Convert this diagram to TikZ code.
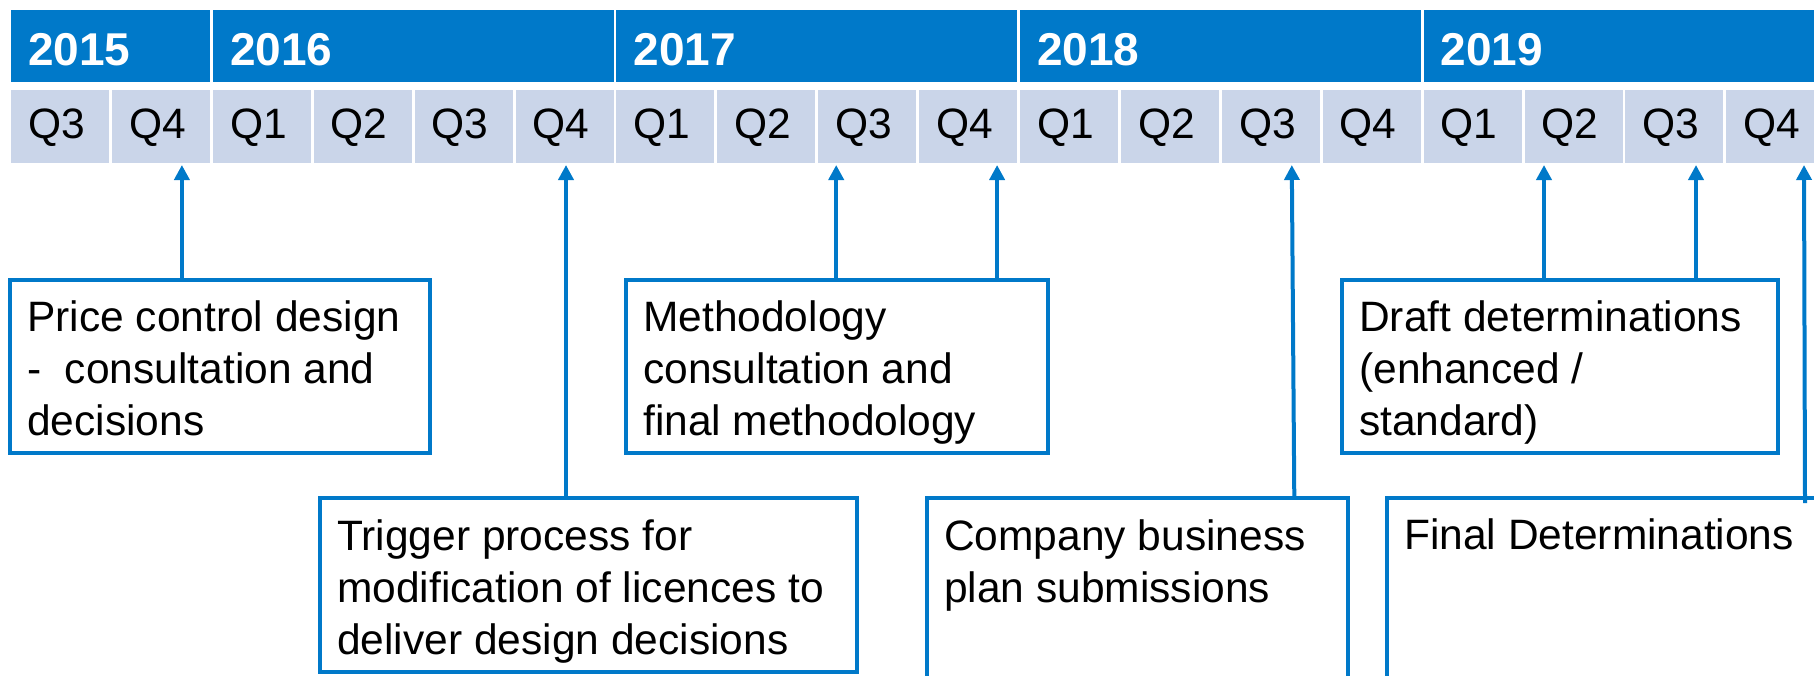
\documentclass[tikz,border=0pt]{standalone}
\usepackage{fontspec}
\setmainfont{Liberation Sans}
\usetikzlibrary{arrows.meta}
\definecolor{barblue}{RGB}{0,121,201}
\definecolor{qfill}{RGB}{202,213,233}
\begin{document}
\begin{tikzpicture}[x=1pt,y=-1pt,
  yearcell/.style={fill=barblue, draw=none, minimum height=72pt, inner sep=0pt, outer sep=0pt, anchor=north west},
  qcell/.style={fill=qfill, draw=none, minimum width=98pt, minimum height=73pt, inner sep=0pt, outer sep=0pt, anchor=north west},
  yeartext/.style={anchor=base west, inner sep=0pt, text=white, font=\fontsize{46}{52}\selectfont\bfseries},
  qtext/.style={anchor=base west, inner sep=0pt, font=\fontsize{42.5}{52}\selectfont},
  eventbox/.style={draw=barblue, line width=4pt, fill=white, inner sep=0pt, outer sep=0pt, anchor=north west},
  boxtext/.style={anchor=base west, inner sep=0pt, font=\fontsize{42.5}{52}\selectfont},
  arr/.style={draw=barblue, line width=4pt, -{Triangle[width=15pt,length=15pt]}}
]
\useasboundingbox (0,0) rectangle (1814,675);
\clip (0,0) rectangle (1814,675);

% year header
\foreach \yr/\first/\n in {2015/0/2, 2016/2/4, 2017/6/4, 2018/10/4, 2019/14/4}{
  \node[yearcell, minimum width=100.9*\n-2.9] (y\yr) at (11+100.9*\first,10) {};
  \node[yeartext] (y\yr t) at ([xshift=17pt,yshift=-55pt]y\yr.north west) {\yr};
}

% quarter row
\foreach \i/\q in {0/Q3,1/Q4,2/Q1,3/Q2,4/Q3,5/Q4,6/Q1,7/Q2,8/Q3,9/Q4,10/Q1,11/Q2,12/Q3,13/Q4,14/Q1,15/Q2,16/Q3,17/Q4}{
  \node[qcell] (q\i) at (11+100.9*\i,90) {};
  \node[qtext] (q\i t) at ([xshift=17pt,yshift=-48pt]q\i.north west) {\q};
}

% event boxes
\node[eventbox, minimum width=420pt, minimum height=173pt] (b1) at (10,280) {};
\node[eventbox, minimum width=537pt, minimum height=174pt] (b2) at (320,498) {};
\node[eventbox, minimum width=422pt, minimum height=173pt] (b3) at (626,280) {};
\node[eventbox, minimum width=421pt, minimum height=260pt] (b4) at (927,498) {};
\node[eventbox, minimum width=436pt, minimum height=173pt] (b5) at (1342,280) {};
\node[eventbox, minimum width=520pt, minimum height=260pt] (b6) at (1387,498) {};

\node[boxtext] (b1t) at ([xshift=17pt,yshift=-51pt]b1.north west)
  {\parbox[t]{600pt}{Price control design\\-\ \ consultation and\\decisions}};
\node[boxtext] (b2t) at ([xshift=17pt,yshift=-52pt]b2.north west)
  {\parbox[t]{600pt}{Trigger process for\\modification of licences to\\deliver design decisions}};
\node[boxtext] (b3t) at ([xshift=17pt,yshift=-51pt]b3.north west)
  {\parbox[t]{600pt}{Methodology\\consultation and\\final methodology}};
\node[boxtext] (b4t) at ([xshift=17pt,yshift=-52pt]b4.north west)
  {\parbox[t]{600pt}{Company business\\plan submissions}};
\node[boxtext] (b5t) at ([xshift=17pt,yshift=-51pt]b5.north west)
  {\parbox[t]{600pt}{Draft determinations\\(enhanced /\\standard)}};
\node[boxtext] (b6t) at ([xshift=17pt,yshift=-51pt]b6.north west)
  {\parbox[t]{600pt}{Final Determinations}};

% arrow tips just under the quarter cells
\coordinate (t1) at ([xshift=21pt,yshift=-2pt]q1.south);
\coordinate (t2) at ([xshift=1.5pt,yshift=-2pt]q5.south);
\coordinate (t3) at ([xshift=-31pt,yshift=-2pt]q8.south);
\coordinate (t4) at ([xshift=29pt,yshift=-2pt]q9.south);
\coordinate (t5) at ([xshift=21pt,yshift=-2pt]q12.south);
\coordinate (t6) at ([xshift=-29.5pt,yshift=-2pt]q15.south);
\coordinate (t7) at ([xshift=21.6pt,yshift=-2pt]q16.south);
\coordinate (t8) at ([xshift=28.7pt,yshift=-2pt]q17.south);

% connectors
\draw[arr] (b1.north -| t1) -- (t1);
\draw[arr] (b2.north -| t2) -- (t2);
\draw[arr] (b3.north -| t3) -- (t3);
\draw[arr] (b3.north -| t4) -- (t4);
\draw[arr] ([xshift=2.5pt]b4.north -| t5) -- (t5);
\draw[arr] (b5.north -| t6) -- (t6);
\draw[arr] (b5.north -| t7) -- (t7);
\draw[arr] ([xshift=1pt,yshift=-5pt]b6.north -| t8) -- (t8);
\end{tikzpicture}
\end{document}
